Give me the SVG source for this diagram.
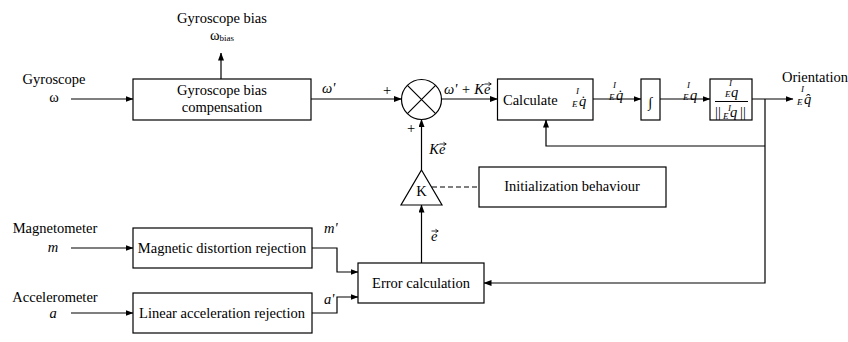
<svg xmlns="http://www.w3.org/2000/svg" width="848" height="342" viewBox="0 0 848 342">
<style>
text{font-family:"Liberation Serif","DejaVu Serif","Noto Serif","Times New Roman",serif;font-size:14.5px;fill:#000}
.c{text-anchor:middle}
.e{text-anchor:end}
.i{font-style:italic}
.s{font-size:9px;font-style:italic}
.box{fill:#fff;stroke:#000;stroke-width:1.2}
.ln{fill:none;stroke:#000;stroke-width:1.2}
.ar{fill:none;stroke:#000;stroke-width:1.2;marker-end:url(#ah)}
.vec{fill:none;stroke:#000;stroke-width:0.8}
</style>
<defs>
<marker id="ah" markerWidth="8" markerHeight="6" refX="7.5" refY="3" orient="auto" markerUnits="userSpaceOnUse">
<path d="M0,0 L8,3 L0,6 Z" fill="#000"/>
</marker>
</defs>
<rect width="848" height="342" fill="#fff"/>

<g id="connectors">
<path class="ar" d="M71,99 H133"/>
<path class="ar" d="M221,79 V53"/>
<path class="ar" d="M311,99 H401.5"/>
<path class="ar" d="M421.5,170 V119.5"/>
<path class="ar" d="M441.5,99 H497.5"/>
<path class="ar" d="M593,99 H641"/>
<path class="ar" d="M660,99 H710"/>
<path class="ar" d="M752,99 H793"/>
<path class="ar" d="M765,99 V283 H484"/>
<path class="ar" d="M765,146 H546 V120"/>
<path class="ar" d="M421.5,263 V205"/>
<path class="ar" d="M71,248 H133"/>
<path class="ar" d="M71,313 H133"/>
<path class="ar" d="M312,248 H337 V272 H358"/>
<path class="ar" d="M312,313 H337 V297 H358"/>
<path class="ln" d="M432,187 H479" stroke-dasharray="5,3"/>
</g>

<g id="inputs">
<text x="54" y="84" class="c">Gyroscope</text>
<text x="54" y="102" class="c">ω</text>
<text x="222" y="23" class="c">Gyroscope bias</text>
<text x="210" y="40">ω<tspan font-size="9" dy="1">bias</tspan></text>
<text x="55" y="233" class="c">Magnetometer</text>
<text x="53" y="252" class="c i">m</text>
<text x="55" y="302" class="c">Accelerometer</text>
<text x="53" y="318" class="c i">a</text>
<text x="815" y="82" class="c">Orientation</text>
<g><text x="801" y="92" class="s">I</text><text x="797" y="105" class="s">E</text><text x="804" y="104" class="i">q̂</text></g>
</g>

<g id="gyro-comp">
<rect class="box" x="133" y="79" width="178" height="41"/>
<text x="222" y="95" class="c">Gyroscope bias</text>
<text x="222" y="112" class="c">compensation</text>
</g>

<g id="sum">
<circle class="box" cx="421.5" cy="99.5" r="20"/>
<path class="ln" d="M407.4,85.4 L435.6,113.6 M435.6,85.4 L407.4,113.6"/>
<text x="387" y="95" class="c" font-size="10">+</text>
<text x="411" y="133" class="c" font-size="10">+</text>
</g>

<g id="labels">
<text x="322" y="93" class="i">ω'</text>
<text x="484" y="94" class="e i">ω' + K</text>
<text x="484" y="94" class="i">e</text>
<path class="vec" d="M484.5,84 H491 M488.5,82.3 L491.3,84 L488.5,85.7"/>
<text x="439" y="154" class="e i">K</text>
<text x="439" y="154" class="i">e</text>
<path class="vec" d="M439.5,144 H446 M443.5,142.3 L446.3,144 L443.5,145.7"/>
<text x="431" y="241" class="i">e</text>
<path class="vec" d="M431.5,231 H438 M435.5,229.3 L438.3,231 L435.5,232.7"/>
<text x="324" y="233" class="i">m'</text>
<text x="324" y="304" class="i">a'</text>
<g><text x="613" y="88" class="s">I</text><text x="609" y="100" class="s">E</text><text x="616" y="100" class="i">q̇</text></g>
<g><text x="687" y="88" class="s">I</text><text x="683" y="100" class="s">E</text><text x="690" y="100" class="i">q</text></g>
</g>

<g id="calculate">
<rect class="box" x="497.5" y="79" width="95.5" height="41"/>
<text x="503" y="105">Calculate</text>
<text x="576" y="94" class="s">I</text><text x="572" y="107" class="s">E</text><text x="579" y="106" class="i">q̇</text>
</g>

<g id="integral">
<rect class="box" x="641" y="79" width="19" height="41"/>
<text x="650.5" y="107" class="c" font-size="22">∫</text>
</g>

<g id="normalize">
<rect class="box" x="710" y="79" width="42" height="41"/>
<text x="729" y="86" class="s">I</text><text x="725" y="97" class="s">E</text><text x="731" y="97" class="i">q</text>
<path class="ln" d="M715,101.5 H748" stroke-width="1"/>
<text x="715" y="117">||</text><text x="728" y="110.5" class="s" font-size="8">I</text><text x="723" y="119" class="s">E</text><text x="730" y="117" class="i">q</text><text x="740" y="117">||</text>
</g>

<g id="gain">
<path class="box" d="M421.5,170 L442,205 L401,205 Z"/>
<text x="421.5" y="196" class="c" font-size="9">K</text>
</g>

<g id="init">
<rect class="box" x="479" y="167" width="187" height="40"/>
<text x="572" y="191" class="c">Initialization behaviour</text>
</g>

<g id="mag">
<rect class="box" x="133" y="228" width="179" height="40"/>
<text x="222" y="253" class="c">Magnetic distortion rejection</text>
</g>

<g id="acc">
<rect class="box" x="133" y="293" width="179" height="40"/>
<text x="222" y="318" class="c">Linear acceleration rejection</text>
</g>

<g id="error">
<rect class="box" x="358" y="263" width="126" height="40"/>
<text x="421" y="288" class="c">Error calculation</text>
</g>
</svg>
